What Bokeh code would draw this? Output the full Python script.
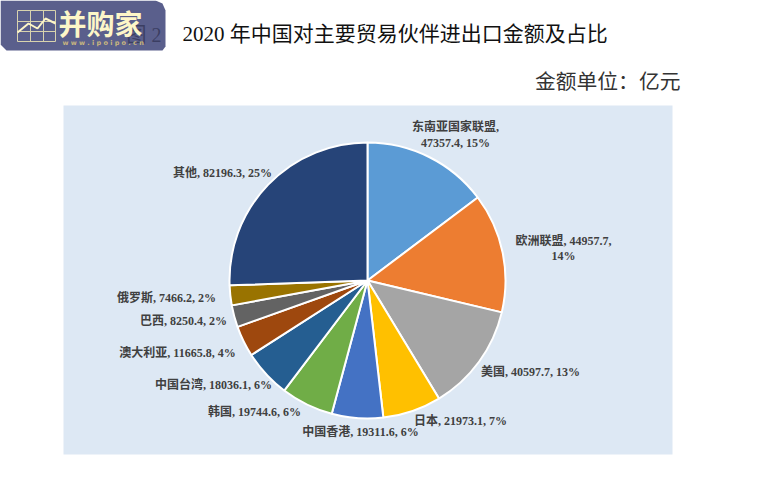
import numpy as np
import pandas as pd

from bokeh.core.properties import value
from bokeh.embed import file_html
from bokeh.models import ColumnDataSource, Range1d
from bokeh.plotting import figure
from bokeh.resources import INLINE

names = ["东南亚国家联盟", "欧洲联盟", "美国", "日本", "中国香港", "韩国",
	"中国台湾", "澳大利亚", "巴西", "俄罗斯", "其他"]
amounts = [47357.4, 44957.7, 40597.7, 21973.1, 19311.6, 19744.6,
	18036.1, 11665.8, 8250.4, 7466.2, 82196.3]
shares = [15, 14, 13, 7, 6, 6, 6, 4, 2, 2, 25]

colors = ["#5b9bd5", "#ed7d31", "#a5a5a5", "#ffc000", "#4472c4", "#70ad47",
	"#255e91", "#9e480e", "#636363", "#997300", "#264478"]

# label centres, in picture pixels
label_x = [455, 563, 530, 460, 360, 254, 213, 177, 183, 166, 222]
label_y = [134, 247, 371, 420, 431, 411, 384, 352, 320, 297, 172]

W = 765
H = 479
SERIF = "Liberation Serif, Noto Sans CJK SC"


def up(y):
	return H - y


df = pd.DataFrame({"name": names, "amount": amounts, "share": shares, "color": colors})
df["frac"] = df["amount"] / df["amount"].sum()
df["end"] = df["frac"].cumsum()
df["start"] = df["end"].shift(1).fillna(0)
df["start_angle"] = np.pi / 2 - df["start"] * 2 * np.pi
df["end_angle"] = np.pi / 2 - df["end"] * 2 * np.pi

p = figure(width=W, height=H, output_backend="svg", toolbar_location=None,
	x_range=Range1d(0, W), y_range=Range1d(0, H),
	x_axis_type=None, y_axis_type=None, min_border=0, outline_line_color=None,
	styles={"position": "absolute", "left": "0px", "top": "0px"})
p.grid.visible = False
p.background_fill_color = "white"

# blue panel behind the pie
p.quad(left=[63], right=[672], top=[up(105)], bottom=[up(454)],
	fill_color="#dde8f4", line_color=None)

source = ColumnDataSource(df)
p.wedge(x=367, y=up(280), radius=138, start_angle="start_angle", end_angle="end_angle",
	direction="clock", fill_color="color", line_color="white", line_width=2, source=source)

# data labels, the two long ones wrap as in the original
lines = []
for name, amount, share, x, y in zip(names, amounts, shares, label_x, label_y):
	if name == "东南亚国家联盟":
		lines.append((name + ",", x, y - 8))
		lines.append((f"{amount}, {share}%", x, y + 8))
	elif name == "欧洲联盟":
		lines.append((f"{name}, {amount},", x, y - 7))
		lines.append((f"{share}%", x, y + 8))
	else:
		lines.append((f"{name}, {amount}, {share}%", x, y))
p.text(x=[l[1] for l in lines], y=[up(l[2]) for l in lines], text=[l[0] for l in lines],
	text_font=value(SERIF), text_font_size="12px", text_font_style="bold",
	text_color="#404040", text_align="center", text_baseline="middle")

# title and unit
p.text(x=[182], y=[up(33)], text=["2020 年中国对主要贸易伙伴进出口金额及占比"],
	text_font=value(SERIF), text_font_size="21px", text_color="#111111",
	text_align="left", text_baseline="middle")
p.text(x=[680], y=[up(81)], text=["金额单位：亿元"],
	text_font=value(SERIF), text_font_size="20.8px", text_color="#333333",
	text_align="right", text_baseline="middle")

# watermark logo over the top left corner
p.patch(x=[0, 155, 162, 165, 165, 162, 6, 0],
	y=[up(0), up(0), up(3), up(10), up(46), up(50), up(50), up(44)],
	fill_color="#5a5f8c", line_color=None)
p.multi_line(xs=[[17, 55], [17, 55], [17, 55], [17, 55], [17, 17], [30, 30], [43, 43], [55, 55]],
	ys=[[up(10), up(10)], [up(21), up(21)], [up(31), up(31)], [up(41), up(41)],
		[up(10), up(41)], [up(10), up(41)], [up(10), up(41)], [up(10), up(41)]],
	line_color="#d8d3ae", line_width=1)
p.line(x=[17, 28, 37, 45, 55], y=[up(32), up(23), up(28), up(18), up(23)],
	line_color="#fdf6c8", line_width=2)
p.text(x=[126], y=[up(34)], text=["图 2"], text_font=value(SERIF),
	text_font_size="20px", text_color="#2e3050", text_alpha=0.7,
	text_align="left", text_baseline="middle")
p.text(x=[58], y=[up(22)], text=["并购家"], text_font=value("Noto Sans CJK SC"),
	text_font_size="28px", text_font_style="bold", text_color="#fdf6c8",
	text_align="left", text_baseline="middle")
p.text(x=[62], y=[up(42)], text=["w w w . i p o i p o . c n"], text_font=value("DejaVu Sans"),
	text_font_size="6.5px", text_font_style="bold", text_color="#c9b77f",
	text_align="left", text_baseline="middle")

open("out.html", "w").write(file_html(p, INLINE))
